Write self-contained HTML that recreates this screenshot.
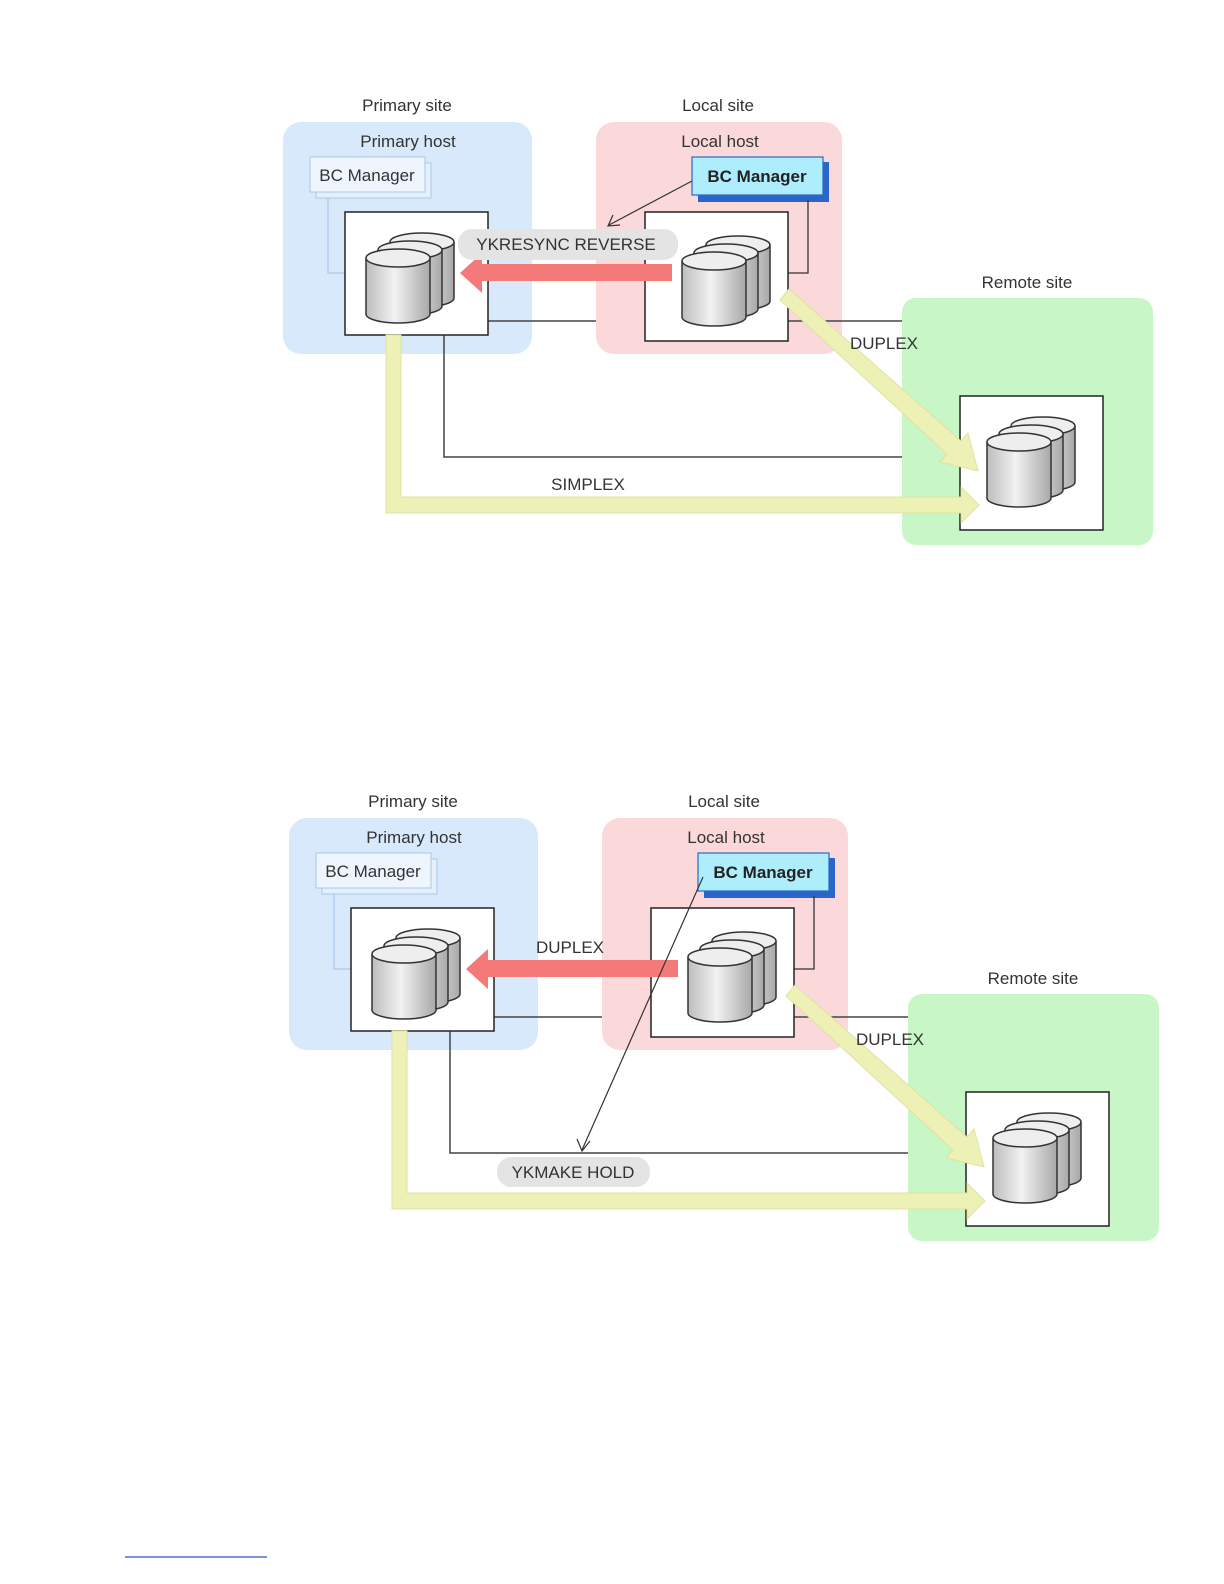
<!DOCTYPE html>
<html><head><meta charset="utf-8"><style>
html,body{margin:0;padding:0;background:#fff;overflow:hidden;width:1224px;height:1584px;}
svg{display:block;}
text{font-family:"Liberation Sans",sans-serif;font-size:17px;fill:#333;}
</style></head><body>
<svg width="1224" height="1584" viewBox="0 0 1224 1584" xmlns="http://www.w3.org/2000/svg">
<defs>
<linearGradient id="cg" x1="0" x2="1" y1="0" y2="0">
<stop offset="0" stop-color="#bdbdbd"/><stop offset="0.45" stop-color="#f2f2f2"/><stop offset="1" stop-color="#a8a8a8"/>
</linearGradient>
<g id="cyl">
<path d="M0,0 v56 a32,9 0 0 0 64,0 v-56" fill="url(#cg)" stroke="#333" stroke-width="1.5"/>
<ellipse cx="32" cy="0" rx="32" ry="9" fill="#eee" stroke="#333" stroke-width="1.5"/>
</g>
<g id="stack">
<use href="#cyl" x="24" y="-16"/>
<use href="#cyl" x="12" y="-8"/>
<use href="#cyl" x="0" y="0"/>
</g>
<g id="base">
<rect x="283" y="122" width="249" height="232" rx="18" fill="#d8e9fb"/>
<rect x="596" y="122" width="246" height="232" rx="18" fill="#fbd9da"/>
<rect x="902" y="298" width="251" height="247" rx="14" fill="#c8f6c6"/>
<rect x="316" y="163" width="115" height="35" fill="#e6f0fb" stroke="#a8c8ec"/>
<rect x="310" y="157" width="115" height="35" fill="#eef5fd" stroke="#a8c8ec"/>
<polyline points="328,198 328,273 345,273" fill="none" stroke="#a8c8ec" stroke-width="1.2"/>
<rect x="698" y="162" width="131" height="40" fill="#2a66c8"/>
<polyline points="808,200 808,273 788,273" fill="none" stroke="#333" stroke-width="1.3"/>
<line x1="488" y1="321" x2="596" y2="321" stroke="#444" stroke-width="1.5"/>
<line x1="788" y1="321" x2="902" y2="321" stroke="#444" stroke-width="1.5"/>
<polyline points="444,335 444,457 902,457" fill="none" stroke="#444" stroke-width="1.5"/>
<rect x="345" y="212" width="143" height="123" fill="#fff" stroke="#222" stroke-width="1.5"/>
<rect x="645" y="212" width="143" height="129" fill="#fff" stroke="#222" stroke-width="1.5"/>
<rect x="960" y="396" width="143" height="134" fill="#fff" stroke="#222" stroke-width="1.5"/>
<use href="#stack" x="366" y="258"/>
<use href="#stack" x="682" y="261"/>
<use href="#stack" x="987" y="442"/>
<path d="M386,335 h15 v162 h560 v-10 l18,18 l-18,18 v-10 h-575 z" fill="#eef1b5" stroke="#dfe2a0" stroke-width="1"/>
<path d="M780,300 l9,-11 l172,152 l7,-8 l10,38 l-38,-9 l7,-8 z" fill="#eef1b5" stroke="#dfe2a0" stroke-width="1"/>
<path d="M672,264 v17 h-190 v12 l-22,-20 l22,-20 v11 z" fill="#f47a7a"/>
<rect x="692" y="157" width="131" height="38" fill="#aeeefc" stroke="#2a66c8" stroke-width="1.2"/>
</g>
</defs>

<use href="#base"/>
<use href="#base" x="6" y="696"/>

<text x="407" y="111" text-anchor="middle">Primary site</text>
<text x="408" y="147" text-anchor="middle">Primary host</text>
<text x="367" y="181" text-anchor="middle">BC Manager</text>
<text x="718" y="111" text-anchor="middle">Local site</text>
<text x="720" y="147" text-anchor="middle">Local host</text>
<text x="757" y="182" text-anchor="middle" style="font-weight:bold;fill:#222">BC Manager</text>
<text x="1027" y="288" text-anchor="middle">Remote site</text>
<rect x="458" y="229" width="220" height="31" rx="14" fill="#e4e4e4"/>
<text x="566" y="250" text-anchor="middle">YKRESYNC REVERSE</text>
<line x1="692" y1="181" x2="609" y2="225" stroke="#333" stroke-width="1.2"/>
<polyline points="613,215 608,226 620,225" fill="none" stroke="#333" stroke-width="1.2"/>
<text x="884" y="349" text-anchor="middle">DUPLEX</text>
<text x="588" y="490" text-anchor="middle">SIMPLEX</text>

<text x="413" y="807" text-anchor="middle">Primary site</text>
<text x="414" y="843" text-anchor="middle">Primary host</text>
<text x="373" y="877" text-anchor="middle">BC Manager</text>
<text x="724" y="807" text-anchor="middle">Local site</text>
<text x="726" y="843" text-anchor="middle">Local host</text>
<text x="763" y="878" text-anchor="middle" style="font-weight:bold;fill:#222">BC Manager</text>
<text x="1033" y="984" text-anchor="middle">Remote site</text>
<text x="570" y="953" text-anchor="middle">DUPLEX</text>
<text x="890" y="1045" text-anchor="middle">DUPLEX</text>
<rect x="497" y="1157" width="153" height="30" rx="14" fill="#e4e4e4"/>
<text x="573" y="1178" text-anchor="middle">YKMAKE HOLD</text>
<line x1="703" y1="877" x2="582" y2="1150" stroke="#333" stroke-width="1.2"/>
<polyline points="577,1139 582,1151 590,1141" fill="none" stroke="#333" stroke-width="1.2"/>

<line x1="125" y1="1557" x2="267" y2="1557" stroke="#3050c0" stroke-width="1.2"/>
</svg>
</body></html>
